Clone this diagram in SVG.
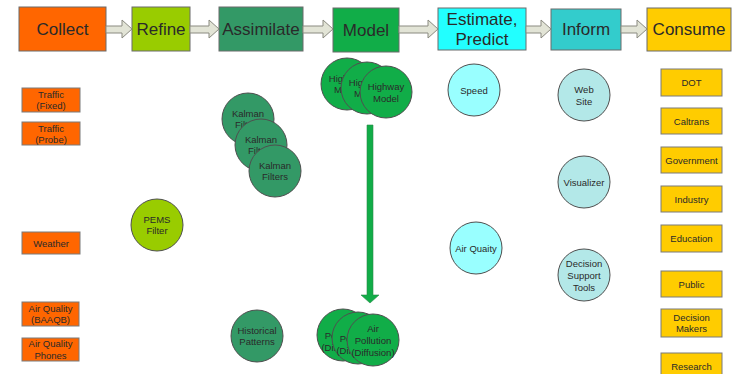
<svg xmlns="http://www.w3.org/2000/svg" width="743" height="374" viewBox="0 0 743 374">
  <defs>
    <style>
      text { font-family: "Liberation Sans", Arial, sans-serif; fill: #2a2a2a; text-anchor: middle; dominant-baseline: central; }
      .stage { stroke: #6b6b6b; stroke-width: 1; }
      .stage-label { font-size: 17px; }
      .src { fill: #ff6600; stroke: #7a7a7a; stroke-width: 1; }
      .use { fill: #ffcc00; stroke: #7a7a7a; stroke-width: 1; }
      .small { font-size: 9.5px; }
      .node { stroke: #4f4f4f; stroke-width: 1; }
      .flow { fill: #e2e4d6; stroke: #8a8a80; stroke-width: 1; }
      .c-refine { fill: #99cc00; }
      .c-assim { fill: #339966; }
      .c-model { fill: #11ad48; }
      .c-est { fill: #99ffff; }
      .c-inform { fill: #b3e8e8; }
    </style>
  </defs>

  <!-- pipeline stages -->
  <g id="stage-collect">
    <rect class="stage" x="19" y="7" width="87" height="44" fill="#ff6600"/>
    <text class="stage-label" x="62.5" y="29">Collect</text>
  </g>
  <g id="stage-refine">
    <rect class="stage" x="132" y="7" width="58" height="44" fill="#99cc00"/>
    <text class="stage-label" x="161" y="29">Refine</text>
  </g>
  <g id="stage-assimilate">
    <rect class="stage" x="219" y="7" width="84" height="44" fill="#339966"/>
    <text class="stage-label" x="261" y="29">Assimilate</text>
  </g>
  <g id="stage-model">
    <rect class="stage" x="333" y="8" width="66" height="44" fill="#11ad48"/>
    <text class="stage-label" x="366" y="30">Model</text>
  </g>
  <g id="stage-estimate">
    <rect class="stage" x="438" y="8" width="88" height="42" fill="#22ffff"/>
    <text class="stage-label" x="482" y="19">Estimate,</text>
    <text class="stage-label" x="482" y="39">Predict</text>
  </g>
  <g id="stage-inform">
    <rect class="stage" x="551" y="9" width="70" height="41" fill="#33cccc"/>
    <text class="stage-label" x="586" y="29">Inform</text>
  </g>
  <g id="stage-consume">
    <rect class="stage" x="647" y="8" width="84" height="43" fill="#ffcc00"/>
    <text class="stage-label" x="689" y="29">Consume</text>
  </g>

  <!-- connectors -->
  <g id="connectors">
    <polygon class="flow" points="106,26 122,26 122,20 132,29 122,38 122,33 106,33"/>
    <polygon class="flow" points="190,26 209,26 209,20 219,29 209,38 209,33 190,33"/>
    <polygon class="flow" points="303,26 323,26 323,20 333,29 323,38 323,33 303,33"/>
    <polygon class="flow" points="399,26 428,26 428,20 438,29 428,38 428,33 399,33"/>
    <polygon class="flow" points="526,26 541,26 541,20 551,29 541,38 541,33 526,33"/>
    <polygon class="flow" points="621,26 637,26 637,20 647,29 637,38 637,33 621,33"/>
    <polygon points="367,125 373,125 373,295 379,295 370,303 361,295 367,295" fill="#11ad48" stroke="#2d8a4a" stroke-width="0.6"/>
  </g>

  <!-- data sources -->
  <g id="src-traffic-fixed">
    <rect class="src" x="22" y="88" width="58" height="24"/>
    <text class="small" x="51" y="94.5">Traffic</text>
    <text class="small" x="51" y="105.5">(Fixed)</text>
  </g>
  <g id="src-traffic-probe">
    <rect class="src" x="22" y="122" width="58" height="23"/>
    <text class="small" x="51" y="128">Traffic</text>
    <text class="small" x="51" y="139">(Probe)</text>
  </g>
  <g id="src-weather">
    <rect class="src" x="22" y="232" width="58" height="22"/>
    <text class="small" x="51" y="243">Weather</text>
  </g>
  <g id="src-air-baaqb">
    <rect class="src" x="22" y="302" width="57" height="24"/>
    <text class="small" x="50.5" y="308">Air Quality</text>
    <text class="small" x="50.5" y="319.5">(BAAQB)</text>
  </g>
  <g id="src-air-phones">
    <rect class="src" x="22" y="338" width="57" height="23"/>
    <text class="small" x="50.5" y="343.5">Air Quality</text>
    <text class="small" x="50.5" y="355">Phones</text>
  </g>

  <!-- refine -->
  <g id="pems-filter">
    <circle class="node c-refine" cx="157" cy="225" r="26"/>
    <text class="small" x="157" y="219">PEMS</text>
    <text class="small" x="157" y="230.5">Filter</text>
  </g>

  <!-- assimilate -->
  <g id="kalman-filters">
    <circle class="node c-assim" cx="248" cy="119" r="26"/>
    <text class="small" x="248" y="113">Kalman</text>
    <text class="small" x="248" y="124.5">Filters</text>
    <circle class="node c-assim" cx="261" cy="145" r="26"/>
    <text class="small" x="261" y="139">Kalman</text>
    <text class="small" x="261" y="150.5">Filters</text>
    <circle class="node c-assim" cx="275" cy="171" r="26"/>
    <text class="small" x="275" y="165">Kalman</text>
    <text class="small" x="275" y="176.5">Filters</text>
  </g>
  <g id="historical-patterns">
    <circle class="node c-assim" cx="257" cy="336" r="26"/>
    <text class="small" x="257" y="330">Historical</text>
    <text class="small" x="257" y="341.5">Patterns</text>
  </g>

  <!-- models -->
  <g id="highway-model">
    <circle class="node c-model" cx="347" cy="84" r="26"/>
    <text class="small" x="347" y="78">Highway</text>
    <text class="small" x="347" y="89.5">Model</text>
    <circle class="node c-model" cx="367" cy="88" r="26"/>
    <text class="small" x="367" y="82">Highway</text>
    <text class="small" x="367" y="93.5">Model</text>
    <circle class="node c-model" cx="386" cy="92" r="26"/>
    <text class="small" x="386" y="86.5">Highway</text>
    <text class="small" x="386" y="98">Model</text>
  </g>
  <g id="air-pollution-model">
    <circle class="node c-model" cx="343" cy="335" r="26"/>
    <text class="small" x="343" y="323">Air</text>
    <text class="small" x="343" y="335">Pollution</text>
    <text class="small" x="343" y="347">(Diffusion)</text>
    <circle class="node c-model" cx="358" cy="338" r="26"/>
    <text class="small" x="358" y="326">Air</text>
    <text class="small" x="358" y="338">Pollution</text>
    <text class="small" x="358" y="350">(Diffusion)</text>
    <circle class="node c-model" cx="373" cy="340" r="26"/>
    <text class="small" x="373" y="328">Air</text>
    <text class="small" x="373" y="340">Pollution</text>
    <text class="small" x="373" y="352">(Diffusion)</text>
  </g>

  <!-- estimates -->
  <g id="est-speed">
    <circle class="node c-est" cx="474" cy="90" r="26"/>
    <text class="small" x="474" y="90">Speed</text>
  </g>
  <g id="est-air-quality">
    <circle class="node c-est" cx="476" cy="248" r="26"/>
    <text class="small" x="476" y="248">Air Quaity</text>
  </g>

  <!-- information products -->
  <g id="inform-web-site">
    <circle class="node c-inform" cx="584" cy="95" r="26"/>
    <text class="small" x="584" y="89.5">Web</text>
    <text class="small" x="584" y="101">Site</text>
  </g>
  <g id="inform-visualizer">
    <circle class="node c-inform" cx="584" cy="182" r="26"/>
    <text class="small" x="584" y="182">Visualizer</text>
  </g>
  <g id="inform-decision-tools">
    <circle class="node c-inform" cx="584" cy="275" r="26"/>
    <text class="small" x="584" y="263">Decision</text>
    <text class="small" x="584" y="275">Support</text>
    <text class="small" x="584" y="287">Tools</text>
  </g>

  <!-- consumers -->
  <g id="use-dot">
    <rect class="use" x="661" y="69" width="61" height="27"/>
    <text class="small" x="691.5" y="82">DOT</text>
  </g>
  <g id="use-caltrans">
    <rect class="use" x="661" y="108" width="61" height="26"/>
    <text class="small" x="691.5" y="121">Caltrans</text>
  </g>
  <g id="use-government">
    <rect class="use" x="661" y="147" width="61" height="26"/>
    <text class="small" x="691.5" y="160">Government</text>
  </g>
  <g id="use-industry">
    <rect class="use" x="661" y="186" width="61" height="26"/>
    <text class="small" x="691.5" y="199">Industry</text>
  </g>
  <g id="use-education">
    <rect class="use" x="661" y="225" width="61" height="27"/>
    <text class="small" x="691.5" y="238">Education</text>
  </g>
  <g id="use-public">
    <rect class="use" x="661" y="271" width="61" height="26"/>
    <text class="small" x="691.5" y="284">Public</text>
  </g>
  <g id="use-decision-makers">
    <rect class="use" x="661" y="309" width="61" height="28"/>
    <text class="small" x="691.5" y="317">Decision</text>
    <text class="small" x="691.5" y="328.5">Makers</text>
  </g>
  <g id="use-research">
    <rect class="use" x="661" y="353" width="61" height="26"/>
    <text class="small" x="691.5" y="366">Research</text>
  </g>
</svg>
